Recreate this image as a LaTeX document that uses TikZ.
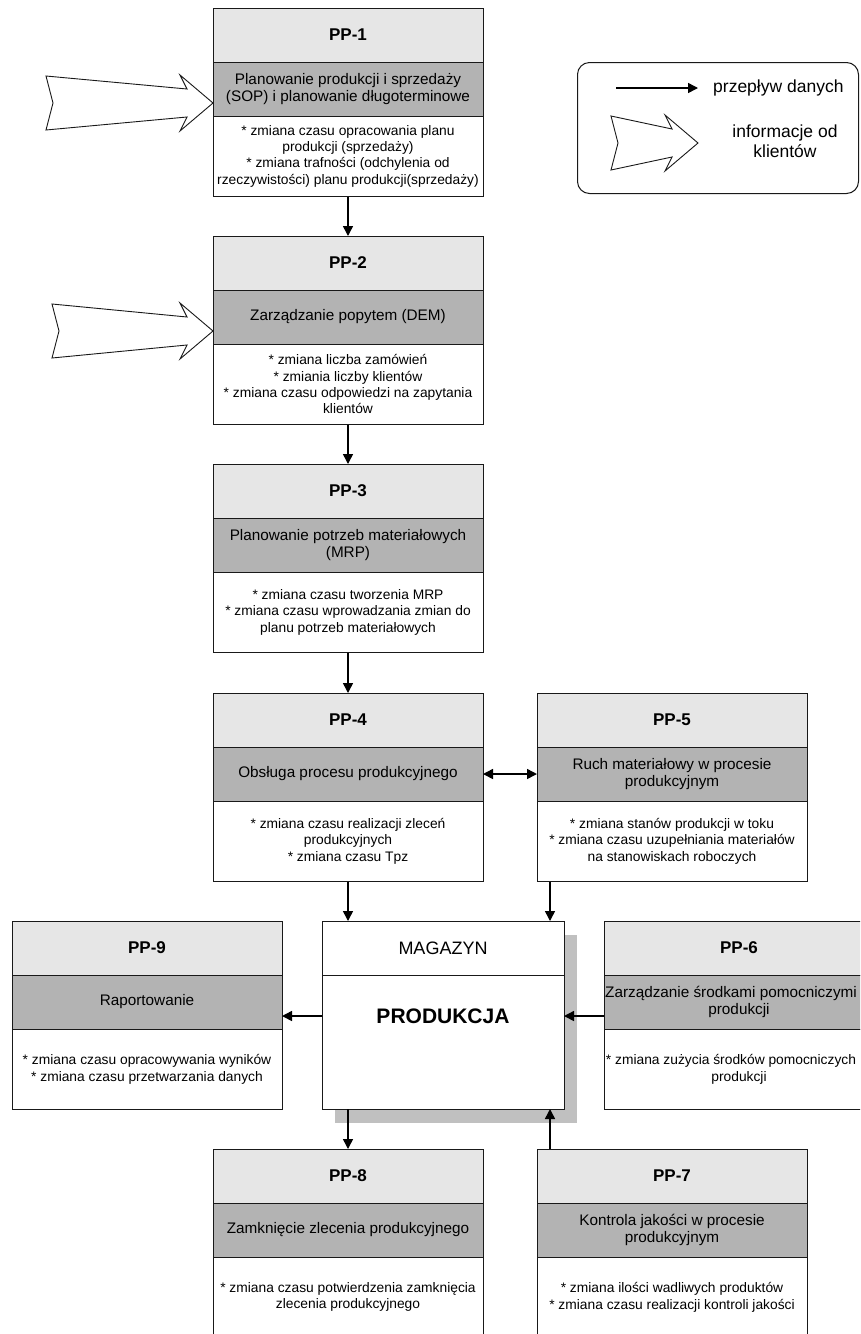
\documentclass[tikz,border=0pt]{standalone}
\usepackage{fontspec}
\setmainfont{Liberation Sans}
\usetikzlibrary{arrows.meta,calc}

\definecolor{headgray}{RGB}{230,230,230}
\definecolor{bandgray}{RGB}{179,179,179}
\definecolor{shadowgray}{RGB}{192,192,192}
\definecolor{edge}{RGB}{25,25,25}

\tikzset{
  box/.style={draw=edge, line width=1pt, inner sep=0pt, outer sep=0pt,
    minimum width=270pt, align=center},
  headbox/.style={box, fill=headgray, minimum height=54pt,
    font=\fontsize{17}{20}\selectfont\bfseries},
  bandbox/.style={box, fill=bandgray, minimum height=54pt,
    font=\fontsize{15.3}{17.5}\selectfont},
  bodybox/.style={box, fill=white, minimum height=80.5pt,
    font=\fontsize{13.8}{16.3}\selectfont},
  flow/.style={draw=black, line width=1.5pt, -{Triangle[length=10pt,width=10pt]}},
  bothflow/.style={draw=black, line width=1.5pt,
    {Triangle[length=10pt,width=10pt]}-{Triangle[length=10pt,width=10pt]}},
  clientarrow/.style={draw=edge, line width=0.9pt, fill=white, line join=miter},
  legendtext/.style={inner sep=0pt, align=center, font=\fontsize{17.5}{20}\selectfont},
}

% one process block: title strip, grey name strip, list of measures
% #1 name prefix, #2 top-left corner, #3 title, #4 name, #5 measures
\newcommand\procblock[5]{%
  \node[headbox, anchor=north west] (#1h) at (#2) {#3};
  \node[bandbox, anchor=north] (#1b) at (#1h.south) {#4};
  \node[bodybox, anchor=north] (#1t) at (#1b.south) {#5};
}

% hollow block arrow for information coming from customers
% #1 tip, #2 overall length
\newcommand\infoarrow[2]{%
  \begin{scope}[shift={#1}]
    \draw[clientarrow] (0,0) -- (-33,28) -- (-26,14) -- (-#2,27) -- (-#2+7,0)
      -- (-#2,-27) -- (-26,-14) -- (-33,-28) -- cycle;
  \end{scope}
}

\begin{document}
\begin{tikzpicture}[x=1pt, y=-1pt]
  \useasboundingbox (0,0) rectangle (860,1334);
  \fill[white] (0,0) rectangle (860,1334);
  \clip (0,0) rectangle (860,1334);

  % process blocks
  \procblock{pp1}{213,8}{PP-1}
    {Planowanie produkcji i sprzedaży\\(SOP) i planowanie długoterminowe}
    {* zmiana czasu opracowania planu\\produkcji (sprzedaży)\\* zmiana trafności (odchylenia od\\rzeczywistości) planu produkcji(sprzedaży)}
  \procblock{pp2}{213,236}{PP-2}
    {Zarządzanie popytem (DEM)}
    {* zmiana liczba zamówień\\* zmiania liczby klientów\\* zmiana czasu odpowiedzi na zapytania\\klientów}
  \procblock{pp3}{213,464}{PP-3}
    {Planowanie potrzeb materiałowych\\(MRP)}
    {* zmiana czasu tworzenia MRP\\* zmiana czasu wprowadzania zmian do\\planu potrzeb materiałowych}
  \procblock{pp4}{213,693}{PP-4}
    {Obsługa procesu produkcyjnego}
    {* zmiana czasu realizacji zleceń\\produkcyjnych\\* zmiana czasu Tpz}
  \procblock{pp5}{537,693}{PP-5}
    {Ruch materiałowy w procesie\\produkcyjnym}
    {* zmiana stanów produkcji w toku\\* zmiana czasu uzupełniania materiałów\\na stanowiskach roboczych}
  \procblock{pp9}{12,921}{PP-9}
    {Raportowanie}
    {* zmiana czasu opracowywania wyników\\* zmiana czasu przetwarzania danych}
  \procblock{pp6}{604,921}{PP-6}
    {Zarządzanie środkami pomocniczymi\hspace*{16pt}\\produkcji}
    {* zmiana zużycia środków pomocniczych\hspace*{16pt}\\produkcji}
  \procblock{pp8}{213,1149}{PP-8}
    {Zamknięcie zlecenia produkcyjnego}
    {* zmiana czasu potwierdzenia zamknięcia\\zlecenia produkcyjnego}
  \procblock{pp7}{537,1149}{PP-7}
    {Kontrola jakości w procesie\\produkcyjnym}
    {* zmiana ilości wadliwych produktów\\* zmiana czasu realizacji kontroli jakości}

  % central store block with its drop shadow
  \fill[shadowgray] (335,935) rectangle (577,1123);
  \node[box, fill=white, minimum width=242pt, minimum height=54pt, anchor=north west,
        font=\fontsize{18}{20}\selectfont] (magh) at (322,921) {MAGAZYN};
  \node[box, fill=white, minimum width=242pt, minimum height=134pt, anchor=north]
        (magb) at (magh.south) {};
  \node[inner sep=0pt, font=\fontsize{21}{24}\selectfont\bfseries] (prod) at (443,1016) {PRODUKCJA};

  % customer information inputs
  \infoarrow{($(pp1b.west)+(0,14)$)}{167}
  \infoarrow{($(pp2b.west)+(0,14)$)}{161}

  % data flows
  \draw[flow] (pp1t.south) -- (pp2h.north);
  \draw[flow] (pp2t.south) -- (pp3h.north);
  \draw[flow] (pp3t.south) -- (pp4h.north);
  \draw[bothflow] (pp4b.east) -- (pp5b.west);
  \draw[flow] (pp4t.south) -- (pp4t.south |- magh.north);
  \coordinate (p5out) at ($(pp5t.south west)+(13,0)$);
  \draw[flow] (p5out) -- (p5out |- magh.north);
  \draw[flow] (prod -| magb.west) -- (prod -| pp9b.east);
  \draw[flow] (prod -| pp6b.west) -- (prod -| magb.east);
  \draw[flow] (pp8h.north |- magb.south) -- (pp8h.north);
  \coordinate (p7out) at ($(pp7h.north west)+(13,0)$);
  \draw[flow] (p7out) -- (p7out |- magb.south);

  % legend
  \node[draw=edge, line width=1pt, rounded corners=12pt, inner sep=0pt,
        minimum width=281pt, minimum height=131pt, anchor=north west] (legend) at (577,62) {};
  \coordinate (lflowA) at (616,88);
  \coordinate (lflowB) at (698,88);
  \draw[flow] (lflowA) -- (lflowB);
  \node[legendtext, anchor=west] (lflowtext) at (713,88) {przepływ danych};
  \infoarrow{(698,143)}{87}
  \node[legendtext] (linfotext) at (785,141) {informacje od\\klientów};
\end{tikzpicture}
\end{document}
